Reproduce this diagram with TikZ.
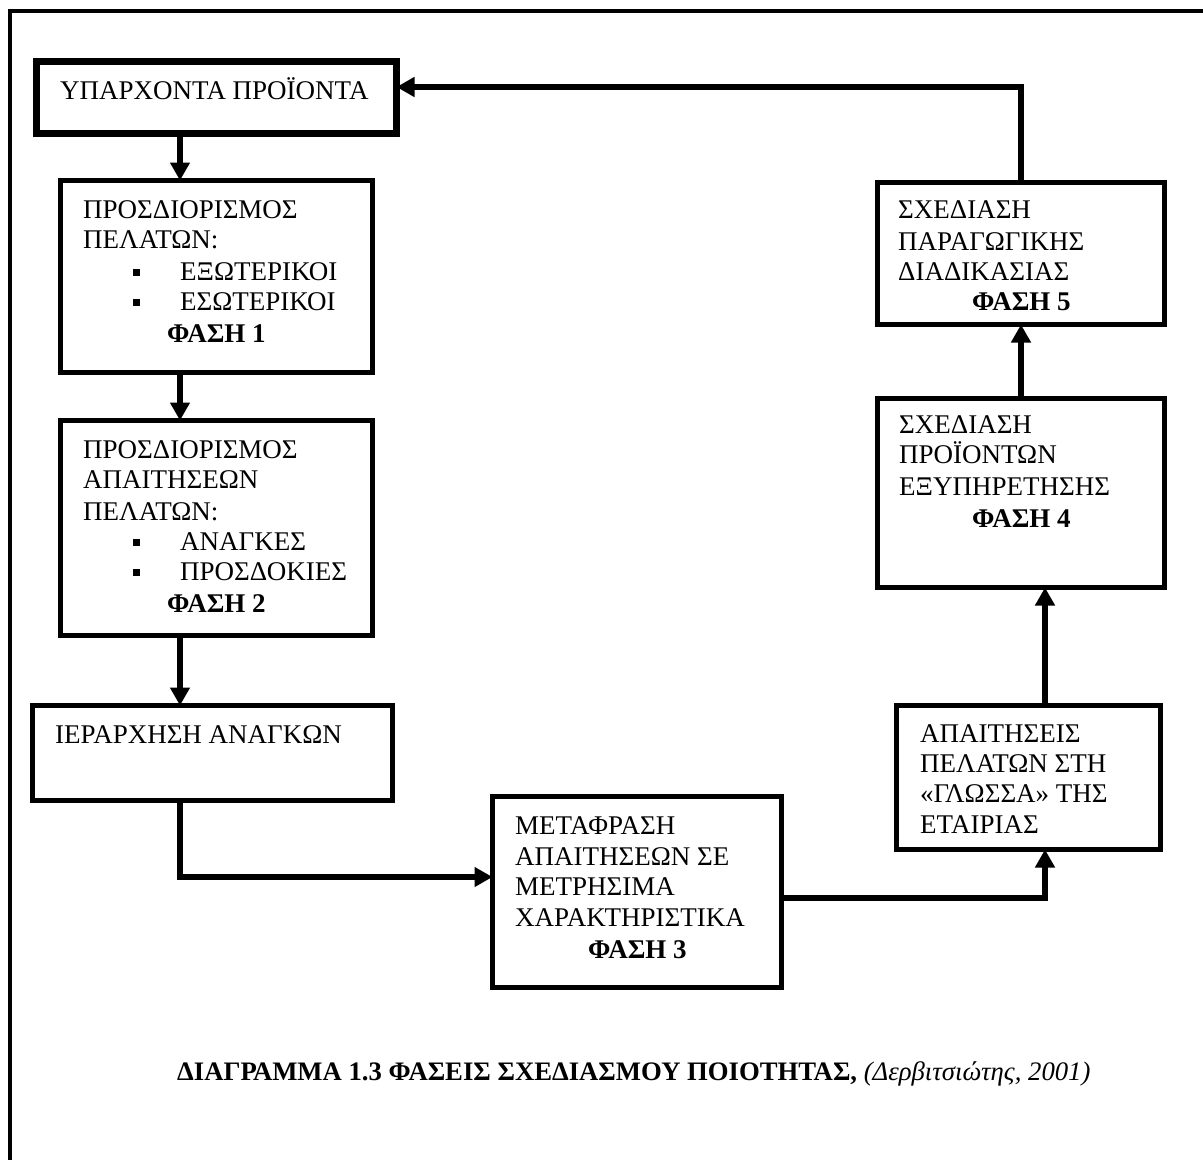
\documentclass[tikz,border=0pt]{standalone}
\usepackage{fontspec}
\setmainfont{Liberation Serif}
\usetikzlibrary{arrows.meta}
\begin{document}
\begin{tikzpicture}[x=1pt,y=-1pt,
  box/.style={draw=black, line width=5pt, rectangle, inner sep=0pt, outer sep=0pt},
  thickbox/.style={box, line width=7pt},
  txt/.style={anchor=base west, inner sep=0pt, font=\fontsize{27}{30}\selectfont},
  captxt/.style={anchor=base west, inner sep=0pt, font=\fontsize{26.7}{30}\selectfont},
  arr/.style={line width=5.5pt, -{Triangle[length=18pt,width=19pt]}},
  bul/.style={fill=black}]
\useasboundingbox (0,0) rectangle (1203,1160);
\clip (0,0) rectangle (1203,1160);
\draw[line width=4pt] (9.5,10.5) rectangle (1230,1200);

% boxes
\node[thickbox, minimum width=360pt, minimum height=72pt] (b0) at (216.5,97.5) {};
\node[box, minimum width=312pt, minimum height=192pt] (b1) at (216.5,276.5) {};
\node[box, minimum width=312pt, minimum height=215pt] (b2) at (216.5,528) {};
\node[box, minimum width=360pt, minimum height=95pt] (b3) at (212.5,753) {};
\node[box, minimum width=289pt, minimum height=191pt] (b4) at (637,892) {};
\node[box, minimum width=264pt, minimum height=144pt] (b5) at (1028.5,777.5) {};
\node[box, minimum width=287pt, minimum height=189pt] (b6) at (1021,493) {};
\node[box, minimum width=287pt, minimum height=142pt] (b7) at (1021,253.5) {};

% texts
\node[txt] (t0) at (60,99) {ΥΠΑΡΧΟΝΤΑ ΠΡΟΪΟΝΤΑ};

\node[txt] (t1a) at (83,218) {ΠΡΟΣΔΙΟΡΙΣΜΟΣ};
\node[txt] (t1b) at (83,248) {ΠΕΛΑΤΩΝ:};
\node[txt] (t1c) at (180,280) {ΕΞΩΤΕΡΙΚΟΙ};
\node[txt] (t1d) at (180,310) {ΕΣΩΤΕΡΙΚΟΙ};
\node[txt] (t1e) at (167,342) {\bfseries ΦΑΣΗ 1};
\fill[bul] (133,268.5) rectangle (140,275.5);
\fill[bul] (133,298.5) rectangle (140,305.5);

\node[txt] (t2a) at (83,458) {ΠΡΟΣΔΙΟΡΙΣΜΟΣ};
\node[txt] (t2b) at (83,488) {ΑΠΑΙΤΗΣΕΩΝ};
\node[txt] (t2c) at (83,520) {ΠΕΛΑΤΩΝ:};
\node[txt] (t2d) at (180,550) {ΑΝΑΓΚΕΣ};
\node[txt] (t2e) at (180,580) {ΠΡΟΣΔΟΚΙΕΣ};
\node[txt] (t2f) at (167,612) {\bfseries ΦΑΣΗ 2};
\fill[bul] (133,538.5) rectangle (140,545.5);
\fill[bul] (133,568.5) rectangle (140,575.5);

\node[txt] (t3) at (55,743) {ΙΕΡΑΡΧΗΣΗ ΑΝΑΓΚΩΝ};

\node[txt] (t4a) at (515,834) {ΜΕΤΑΦΡΑΣΗ};
\node[txt] (t4b) at (515,865) {ΑΠΑΙΤΗΣΕΩΝ ΣΕ};
\node[txt] (t4c) at (515,895) {ΜΕΤΡΗΣΙΜΑ};
\node[txt] (t4d) at (515,926) {ΧΑΡΑΚΤΗΡΙΣΤΙΚΑ};
\node[txt] (t4e) at (588,958) {\bfseries ΦΑΣΗ 3};

\node[txt] (t5a) at (920,742) {ΑΠΑΙΤΗΣΕΙΣ};
\node[txt] (t5b) at (920,772) {ΠΕΛΑΤΩΝ ΣΤΗ};
\node[txt] (t5c) at (920,802) {«ΓΛΩΣΣΑ» ΤΗΣ};
\node[txt] (t5d) at (920,833) {ΕΤΑΙΡΙΑΣ};

\node[txt] (t6a) at (899,433) {ΣΧΕΔΙΑΣΗ};
\node[txt] (t6b) at (899,463) {ΠΡΟΪΟΝΤΩΝ};
\node[txt] (t6c) at (899,495) {ΕΞΥΠΗΡΕΤΗΣΗΣ};
\node[txt] (t6d) at (972,527) {\bfseries ΦΑΣΗ 4};

\node[txt] (t7a) at (898,218) {ΣΧΕΔΙΑΣΗ};
\node[txt] (t7b) at (898,250) {ΠΑΡΑΓΩΓΙΚΗΣ};
\node[txt] (t7c) at (898,280) {ΔΙΑΔΙΚΑΣΙΑΣ};
\node[txt] (t7d) at (972,310) {\bfseries ΦΑΣΗ 5};

\node[captxt] (cap) at (177,1080) {\bfseries ΔΙΑΓΡΑΜΜΑ 1.3 ΦΑΣΕΙΣ ΣΧΕΔΙΑΣΜΟΥ ΠΟΙΟΤΗΤΑΣ, \mdseries\itshape (Δερβιτσιώτης, 2001)};

% connector helper coordinates
\coordinate (xl) at (180,0);
\coordinate (xr) at (1045,0);
\coordinate (y34) at (0,877);
\coordinate (y45) at (0,898);
\coordinate (y70) at (0,87);

% connectors
\draw[arr] (b0.south -| xl) -- (b1.north -| xl);
\draw[arr] (b1.south -| xl) -- (b2.north -| xl);
\draw[arr] (b2.south -| xl) -- (b3.north -| xl);
\draw[arr] (b3.south -| xl) |- (b4.west |- y34);
\draw[arr] (b4.east |- y45) -| (b5.south -| xr);
\draw[arr] (b5.north -| xr) -- (b6.south -| xr);
\draw[arr] (b6.north) -- (b7.south);
\draw[arr] (b7.north) |- (b0.east |- y70);
\end{tikzpicture}
\end{document}
